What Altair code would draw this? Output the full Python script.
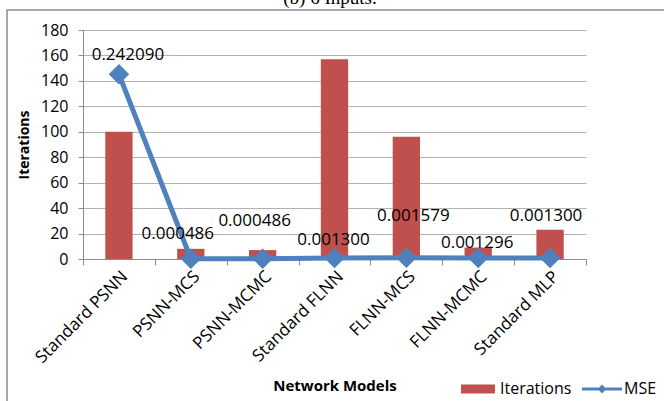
import altair as alt
import pandas as pd

# Network models compared (6 inputs)
models = [
    "Standard PSNN", "PSNN-MCS", "PSNN-MCMC", "Standard FLNN",
    "FLNN-MCS", "FLNN-MCMC", "Standard MLP",
]
iterations = [100, 8, 7, 157, 96, 9, 23]
mse = [0.242090, 0.000486, 0.000486, 0.001300, 0.001579, 0.001296, 0.001300]

# label nudges (pixels) for the MSE value annotations
label_dx = [9, -13, -8, -1, 7, -1, -4]
label_dy = [-19, -25, -38, -18, -42, -15, -42]

df = pd.DataFrame({"model": models, "iterations": iterations, "mse": mse})

FONT = "Open Sans"
RED = "#C0504D"
BLUE = "#4F81BD"
GRID = "#b3b3b3"
AXIS = "#8c8c8c"

W, H = 503, 229

x_enc = alt.X(
    "model:N",
    sort=models,
    scale=alt.Scale(paddingInner=0, paddingOuter=0),
    axis=alt.Axis(
        title="Network Models", labelAngle=-45, tickBand="extent",
        labelFont=FONT, labelFontSize=17, labelColor="#000",
        labelPadding=3, tickSize=6, tickColor=AXIS, domainColor=AXIS,
        titleFont=FONT, titleFontSize=15, titleFontWeight="bold",
        titleColor="#000", titleX=W / 2, titleY=126, titleBaseline="middle",
    ),
)

bars = alt.Chart(df).mark_bar(color=RED, width=alt.RelativeBandSize(0.38)).encode(
    x=x_enc,
    y=alt.Y(
        "iterations:Q",
        scale=alt.Scale(domain=[0, 180], nice=False),
        axis=alt.Axis(
            title="Iterations", values=list(range(0, 181, 20)), grid=True,
            gridColor=GRID, domainColor=AXIS, tickColor=AXIS, tickSize=5,
            labelPadding=10, labelFont=FONT, labelFontSize=16, labelColor="#000",
            titleFont=FONT, titleFontSize=14, titleFontWeight="bold",
            titleColor="#000", titleX=-59, titleY=H / 2, titleAngle=-90,
            titleAlign="center", titleBaseline="middle",
        ),
    ),
)

mse_y = alt.Y(
    "mse:Q",
    scale=alt.Scale(domain=[0, 0.3], nice=False),
    axis=alt.Axis(
        title="MSE", orient="right", values=[0, 0.05, 0.1, 0.15, 0.2, 0.25, 0.3],
        format=".2f", grid=False, domainColor=AXIS, tickColor=AXIS, tickSize=5,
        labelPadding=11, labelFont=FONT, labelFontSize=16, labelColor="#000",
        titleFont=FONT, titleFontSize=14, titleFontWeight="bold",
        titleColor="#000", titleX=68, titleY=H / 2, titleAngle=-90,
        titleAlign="center", titleBaseline="middle",
    ),
)
mse_y_plain = alt.Y("mse:Q", scale=alt.Scale(domain=[0, 0.3], nice=False), axis=None)

line = alt.Chart(df).mark_line(color=BLUE, strokeWidth=5).encode(
    x=alt.X("model:N", sort=models), y=mse_y
)
points = alt.Chart(df).mark_point(
    shape="diamond", filled=True, color=BLUE, size=420, opacity=1
).encode(x=alt.X("model:N", sort=models), y=mse_y_plain)

labels = [
    alt.Chart(df)
    .transform_filter(alt.datum.model == m)
    .mark_text(font=FONT, fontSize=17, color="#000", dx=dx, dy=dy)
    .encode(
        x=alt.X("model:N", sort=models),
        y=mse_y_plain,
        text=alt.Text("mse:Q", format=".6f"),
    )
    for m, dx, dy in zip(models, label_dx, label_dy)
]

mse_layer = alt.layer(line, points, *labels)

# legend entries: bar swatch and line-with-marker
legend_opts = dict(
    title=None, orient="none", legendX=375, legendY=339,
    direction="horizontal", symbolSize=1600, symbolStrokeWidth=0,
    labelFont=FONT, labelFontSize=16, labelColor="#000",
    labelOffset=2, columnPadding=10,
)
legend_df = pd.DataFrame({"series": ["Iterations", "MSE"]})
legend_layer = alt.Chart(legend_df).mark_point(filled=True, opacity=1).encode(
    x=alt.value(-2000),
    y=alt.value(-2000),
    color=alt.Color(
        "series:N",
        scale=alt.Scale(domain=["Iterations", "MSE"], range=[RED, BLUE]),
        legend=alt.Legend(**legend_opts),
    ),
    shape=alt.Shape(
        "series:N",
        scale=alt.Scale(
            domain=["Iterations", "MSE"],
            range=[
                "M-0.85,-0.225L0.85,-0.225L0.85,0.225L-0.85,0.225Z",
                "M-1,-0.07L1,-0.07L1,0.07L-1,0.07Z M0,-0.22L0.22,0L0,0.22L-0.22,0Z",
            ],
        ),
        legend=alt.Legend(**legend_opts),
    ),
)

one = pd.DataFrame({"k": [0]})
frame = alt.Chart(one).mark_rect(
    filled=False, stroke="#8c8c8c", strokeWidth=1.5
).encode(
    x=alt.value(-76), x2=alt.value(620), y=alt.value(-20), y2=alt.value(420)
)
caption = alt.Chart(one).mark_text(
    text="(b) 6 Inputs.", font="Liberation Serif", fontSize=19,
    baseline="alphabetic", align="center", color="#000",
).encode(x=alt.value(247), y=alt.value(-26))

chart = (
    alt.layer(bars, mse_layer, legend_layer, frame, caption)
    .resolve_scale(y="independent")
    .properties(
        width=W, height=H,
        autosize=alt.AutoSizeParams(type="none"),
        padding={"left": 83, "top": 30, "right": 78, "bottom": 142},
        background="white",
    )
    .configure_view(stroke=None)
)

chart.save("out.html", embed_options={"renderer": "svg", "actions": False})
